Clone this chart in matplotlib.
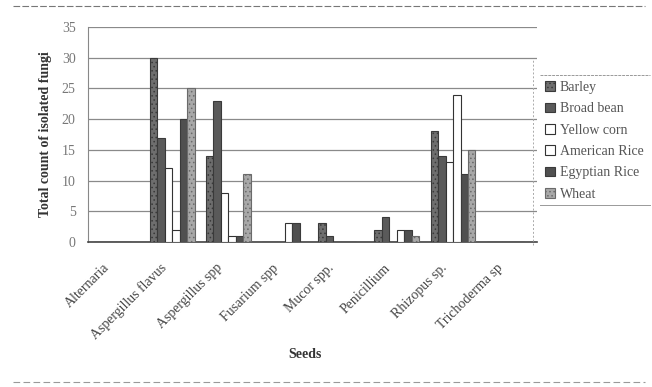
import matplotlib
matplotlib.use("Agg")
import matplotlib.pyplot as plt
import matplotlib.transforms as mtransforms
import numpy as np
from matplotlib.lines import Line2D

plt.rcParams['font.family'] = ['Liberation Serif', 'DejaVu Serif']
plt.rcParams['hatch.linewidth'] = 0.6

categories = ["Alternaria", "Aspergillus flavus", "Aspergillus spp", "Fusarium spp",
              "Mucor spp.", "Penicillium", "Rhizopus sp.", "Trichoderma sp"]
barley = [0, 30, 14, 0, 3, 2, 18, 0]
broad_bean = [0, 17, 23, 0, 1, 4, 14, 0]
yellow_corn = [0, 12, 8, 0, 0, 0, 13, 0]
american_rice = [0, 2, 1, 3, 0, 2, 24, 0]
egyptian_rice = [0, 20, 1, 3, 0, 2, 11, 0]
wheat = [0, 25, 11, 0, 0, 1, 15, 0]
series_names = ["Barley", "Broad bean", "Yellow corn", "American Rice", "Egyptian Rice", "Wheat"]
yticks = [0, 5, 10, 15, 20, 25, 30, 35]

series = [barley, broad_bean, yellow_corn, american_rice, egyptian_rice, wheat]
styles = [
    dict(facecolor="#6e6e6e", hatch="....", edgecolor="#3a3a3a"),
    dict(facecolor="#5a5a5a", hatch=None, edgecolor="#3a3a3a"),
    dict(facecolor="white", hatch=None, edgecolor="#333333"),
    dict(facecolor="white", hatch=None, edgecolor="#333333"),
    dict(facecolor="#505050", hatch=None, edgecolor="#3a3a3a"),
    dict(facecolor="#a8a8a8", hatch="....", edgecolor="#6a6a6a"),
]

fig = plt.figure(figsize=(6.52, 3.87), dpi=100)
ax = fig.add_axes([0.135, 0.375, 0.689, 0.555])

x = np.arange(len(categories))
n = len(series)
w = 0.8 / n
for i, (vals, st, name) in enumerate(zip(series, styles, series_names)):
    ax.bar(x - 0.4 + w * (i + 0.5), vals, width=w, facecolor=st["facecolor"],
           edgecolor=st["edgecolor"], hatch=st["hatch"], linewidth=0.8, label=name, zorder=3)

ax.set_xlim(-0.5, len(categories) - 0.5)
ax.set_ylim(0, 35)
ax.set_yticks(yticks)
ax.set_yticklabels([str(t) for t in yticks], fontsize=10, color="#777777")
ax.yaxis.grid(True, color="#8a8a8a", linewidth=0.9, zorder=0)
ax.set_xticks(x)
ax.set_xticklabels(categories, rotation=45, ha="right", rotation_mode="anchor",
                   fontsize=10, color="#444444")
ax.tick_params(axis="y", length=0, pad=9)
ax.tick_params(axis="x", length=0, pad=14)
offset = mtransforms.ScaledTranslation(-13 / 100, 0, fig.dpi_scale_trans)
for lbl in ax.get_xticklabels():
    lbl.set_transform(lbl.get_transform() + offset)
for s in ["top", "right"]:
    ax.spines[s].set_visible(False)
ax.spines["left"].set_color("#888888")
ax.spines["left"].set_linestyle((0, (2, 1)))
ax.spines["bottom"].set_color("#444444")
ax.spines["bottom"].set_linewidth(1.2)

ax.set_ylabel("Total count of isolated fungi", fontsize=10, fontweight="bold", color="#333333", labelpad=7)
fig.text(0.468, 1 - 355 / 387, "Seeds", fontsize=10, fontweight="bold", color="#333333",
         ha="center", va="center")

leg = fig.legend(loc="upper left", bbox_to_anchor=(545 / 652, 1 - 81 / 387), frameon=False,
                 fontsize=10, handlelength=0.7, handleheight=0.7, handletextpad=0.35,
                 labelspacing=0.6, borderaxespad=0.0, borderpad=0.0)
for t in leg.get_texts():
    t.set_color("#555555")

# page frame lines
fig.add_artist(Line2D([0.02, 0.99], [0.985, 0.985], color="#777777", linewidth=0.8, linestyle=(0, (6, 2))))
fig.add_artist(Line2D([0.02, 0.99], [0.012, 0.012], color="#999999", linewidth=0.8, linestyle=(0, (6, 3))))
fig.add_artist(Line2D([533 / 652, 533 / 652], [1 - 245 / 387, 1 - 60 / 387], color="#aaaaaa",
                      linewidth=0.7, linestyle=(0, (2, 2))))
fig.add_artist(Line2D([540 / 652, 650 / 652], [1 - 75 / 387, 1 - 75 / 387], color="#999999",
                      linewidth=0.7, linestyle=(0, (3, 1))))
fig.add_artist(Line2D([540 / 652, 650 / 652], [1 - 205 / 387, 1 - 205 / 387], color="#999999",
                      linewidth=0.7))

fig.savefig("out.png", dpi=100)
